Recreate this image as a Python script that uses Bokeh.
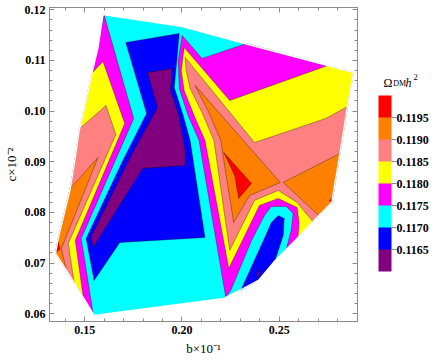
from bokeh.plotting import figure
from bokeh.layouts import row
from bokeh.models import (LinearAxis, Range1d, FixedTicker, PrintfTickFormatter,
                          ColorBar, LinearColorMapper, Label)
from bokeh.embed import file_html
from bokeh.resources import INLINE

# ---------------- data (b x 10^-1 , c x 10^-2) ----------------
levels = [0.1165, 0.1170, 0.1175, 0.1180, 0.1185, 0.1190, 0.1195]
level_colors = ["#800080", "#0000FF", "#00FFFF", "#FF00FF", "#FFFF00", "#FF8080", "#FF8000", "#FF0000"]
x_major = [0.15, 0.20, 0.25]
x_minor = [0.14, 0.16, 0.17, 0.18, 0.19, 0.21, 0.22, 0.23, 0.24, 0.26, 0.27, 0.28, 0.29]
y_major = [0.06, 0.07, 0.08, 0.09, 0.10, 0.11, 0.12]
y_minor = [0.060, 0.062, 0.064, 0.066, 0.068, 0.070, 0.072, 0.074, 0.076, 0.078, 0.080,
           0.082, 0.084, 0.086, 0.088, 0.090, 0.092, 0.094, 0.096, 0.098, 0.100, 0.102,
           0.104, 0.106, 0.108, 0.110, 0.112, 0.114, 0.116, 0.118, 0.120]

hull_b = [0.15942, 0.20012, 0.23219, 0.27493, 0.28817, 0.28511, 0.28104, 0.27697, 0.26934, 0.25865,
          0.24796, 0.23931, 0.22964, 0.22150, 0.15483, 0.14924, 0.14059, 0.13499, 0.13651, 0.14262,
          0.14517, 0.14720, 0.15076, 0.15382, 0.15687]
hull_c = [0.11907, 0.11670, 0.11335, 0.10901, 0.10763, 0.10111, 0.09125, 0.08197, 0.07901, 0.07467,
          0.07052, 0.06658, 0.06460, 0.06303, 0.05968, 0.06322, 0.06855, 0.07190, 0.07506, 0.08473,
          0.09085, 0.09618, 0.10210, 0.10763, 0.11256]

# >= 0.1175 (magenta)
magenta_l_b = [0.15993, 0.17519, 0.14822, 0.15433, 0.14924, 0.14059, 0.13499, 0.13651, 0.14262, 0.14517,
               0.14720, 0.15076, 0.15382, 0.15687]
magenta_l_c = [0.11907, 0.09855, 0.07487, 0.06007, 0.06322, 0.06855, 0.07190, 0.07506, 0.08473, 0.09085,
               0.09618, 0.10210, 0.10763, 0.11256]
magenta_r_b = [0.20012, 0.21030, 0.23320, 0.27493, 0.28817, 0.28511, 0.28104, 0.27697, 0.26934, 0.25865,
               0.25356, 0.25611, 0.25712, 0.25356, 0.24593, 0.24237, 0.23575, 0.22506, 0.22252, 0.20878,
               0.20318, 0.19860, 0.19809]
magenta_r_c = [0.11493, 0.11039, 0.11335, 0.10901, 0.10763, 0.10111, 0.09125, 0.08197, 0.07901, 0.07467,
               0.07270, 0.07644, 0.07980, 0.08118, 0.08118, 0.07940, 0.07447, 0.06460, 0.06322, 0.09421,
               0.09914, 0.10447, 0.11000]
# >= 0.1180 (yellow)
yellow_l_b = [0.15942, 0.17061, 0.14517, 0.14924, 0.14059, 0.13499, 0.13651, 0.14262, 0.14517, 0.14720,
              0.15076, 0.15356]
yellow_l_c = [0.10980, 0.09756, 0.07447, 0.06342, 0.06855, 0.07190, 0.07506, 0.08473, 0.09085, 0.09618,
              0.10210, 0.10743]
yellow_r_b = [0.20114, 0.22455, 0.27493, 0.28817, 0.28511, 0.28104, 0.27697, 0.26934, 0.25966, 0.26017,
              0.25916, 0.24949, 0.23982, 0.22404, 0.21183, 0.20623, 0.20114, 0.19962]
yellow_r_c = [0.11256, 0.10210, 0.10901, 0.10763, 0.10111, 0.09125, 0.08197, 0.07901, 0.07506, 0.07802,
              0.08098, 0.08276, 0.08138, 0.06895, 0.09421, 0.09914, 0.10407, 0.10802]
# >= 0.1185 (salmon)
salmon_l_b = [0.16094, 0.16603, 0.14160, 0.14466, 0.14059, 0.13499, 0.13651, 0.14262, 0.14517, 0.14746]
salmon_l_c = [0.10111, 0.09539, 0.07388, 0.06599, 0.06855, 0.07190, 0.07506, 0.08473, 0.09085, 0.09657]
salmon_r_b = [0.20165, 0.23728, 0.27392, 0.28511, 0.28104, 0.27697, 0.26934, 0.26730, 0.26374, 0.25916,
              0.24949, 0.23728, 0.22455, 0.21641, 0.21030, 0.20419, 0.20216]
salmon_r_c = [0.11059, 0.09381, 0.09855, 0.10092, 0.09125, 0.08197, 0.07901, 0.07822, 0.07980, 0.08197,
              0.08434, 0.08237, 0.07250, 0.09421, 0.09973, 0.10447, 0.10802]
# >= 0.1190 (orange)
orange_l_b = [0.15687, 0.13804, 0.14059, 0.13499, 0.13651, 0.14262]
orange_l_c = [0.09085, 0.07289, 0.06855, 0.07190, 0.07506, 0.08473]
orange_m_b = [0.20674, 0.25050, 0.23473, 0.22659, 0.22150, 0.21997, 0.21336]
orange_m_c = [0.10506, 0.08592, 0.08335, 0.07802, 0.09026, 0.09421, 0.10013]
orange_r_b = [0.25203, 0.28119, 0.27697, 0.27035]
orange_r_c = [0.08592, 0.09164, 0.08197, 0.07940]
# >= 0.1195 (red)
red_l_b = [0.13499, 0.13651, 0.13728]
red_l_c = [0.07210, 0.07427, 0.07270]
red_m_b = [0.22150, 0.23575, 0.22913, 0.22710]
red_m_c = [0.09184, 0.08572, 0.08276, 0.08730]
red_r_b = [0.27570, 0.27722, 0.27697]
red_r_c = [0.08237, 0.08296, 0.08197]
# < 0.1170 (blue)
blue_m_b = [0.17112, 0.19860, 0.19605, 0.20063, 0.20419, 0.21183, 0.16807, 0.15483, 0.15076, 0.16960, 0.18181]
blue_m_c = [0.11355, 0.11532, 0.10467, 0.09914, 0.09421, 0.07506, 0.07407, 0.06658, 0.07487, 0.09026, 0.09953]
blue_r_b = [0.23015, 0.24186, 0.24593, 0.24949, 0.25254, 0.25203, 0.24796, 0.23931]
blue_r_c = [0.06460, 0.07447, 0.07802, 0.07940, 0.07881, 0.07546, 0.07072, 0.06658]
# < 0.1165 (purple)
purple_m_b = [0.18231, 0.19504, 0.19402, 0.19809, 0.20165, 0.20165, 0.17977, 0.15433, 0.15331, 0.17468, 0.18740]
purple_m_c = [0.10763, 0.10842, 0.10407, 0.09953, 0.09223, 0.08927, 0.08868, 0.07309, 0.07526, 0.09184, 0.10072]
purple_r_b = [0.23830, 0.23982, 0.23957]
purple_r_c = [0.06776, 0.06895, 0.06717]

# ---------------- main figure ----------------
GRAY = "#8a8a8a"
SERIF = "Liberation Serif"
p = figure(width=360, height=360, x_range=Range1d(0.13193, 0.29020), y_range=Range1d(0.05848, 0.12045),
           output_backend="svg", toolbar_location=None,
           min_border_left=46, min_border_right=3, min_border_top=7, min_border_bottom=39)
p.xgrid.visible = False
p.ygrid.visible = False
p.outline_line_color = GRAY
p.background_fill_color = "white"
p.border_fill_color = "white"

p.patch(hull_b, hull_c, fill_color=level_colors[2], line_color=None)

regions = [
    (magenta_l_b, magenta_l_c, level_colors[3]), (magenta_r_b, magenta_r_c, level_colors[3]),
    (yellow_l_b, yellow_l_c, level_colors[4]), (yellow_r_b, yellow_r_c, level_colors[4]),
    (salmon_l_b, salmon_l_c, level_colors[5]), (salmon_r_b, salmon_r_c, level_colors[5]),
    (orange_l_b, orange_l_c, level_colors[6]), (orange_m_b, orange_m_c, level_colors[6]),
    (orange_r_b, orange_r_c, level_colors[6]),
    (red_l_b, red_l_c, level_colors[7]), (red_m_b, red_m_c, level_colors[7]), (red_r_b, red_r_c, level_colors[7]),
    (blue_m_b, blue_m_c, level_colors[1]), (blue_r_b, blue_r_c, level_colors[1]),
    (purple_m_b, purple_m_c, level_colors[0]), (purple_r_b, purple_r_c, level_colors[0]),
]
for xs, ys, col in regions:
    p.patch(xs, ys, fill_color=col, line_color="#000000", line_alpha=0.4, line_width=0.8)

# clean outer boundary
p.patch(hull_b, hull_c, fill_color=None, line_color="white", line_width=1.4)

# labelled axes
for ax in (p.xaxis[0], p.yaxis[0]):
    ax.axis_line_color = GRAY
    ax.major_tick_line_color = GRAY
    ax.minor_tick_line_color = GRAY
    ax.major_tick_in = 5
    ax.major_tick_out = 0
    ax.minor_tick_in = 3
    ax.minor_tick_out = 0
    ax.major_label_text_font = SERIF
    ax.major_label_text_font_style = "bold"
    ax.major_label_text_font_size = "12px"
    ax.major_label_text_color = "black"
    ax.major_label_standoff = 4
    ax.formatter = PrintfTickFormatter(format="%.2f")
    ax.axis_label_text_font = SERIF
    ax.axis_label_text_font_style = "normal"
    ax.axis_label_text_font_size = "13px"
    ax.axis_label_text_color = "black"
p.xaxis[0].ticker = FixedTicker(ticks=x_major, minor_ticks=x_minor)
p.yaxis[0].ticker = FixedTicker(ticks=y_major, minor_ticks=y_minor)
p.xaxis[0].axis_label = "b×10⁻¹"
p.xaxis[0].axis_label_standoff = 4
p.yaxis[0].axis_label = "c×10⁻²"
p.yaxis[0].axis_label_standoff = 3

# unlabelled mirror ticks on top and right (frame ticks)
def mirror(ticks, length):
    ax = LinearAxis(ticker=FixedTicker(ticks=[], minor_ticks=ticks))
    ax.axis_line_color = GRAY
    ax.minor_tick_line_color = GRAY
    ax.minor_tick_in = length
    ax.minor_tick_out = 0
    ax.major_tick_out = 0
    ax.major_label_standoff = 0
    return ax

p.add_layout(mirror(x_major, 5), "above")
p.add_layout(mirror(x_minor, 3), "above")
p.add_layout(mirror(y_major, 5), "right")
p.add_layout(mirror(y_minor, 3), "right")

# ---------------- colour-bar panel ----------------
q = figure(width=76, height=360, x_range=Range1d(0, 1), y_range=Range1d(0, 1),
           x_axis_type=None, y_axis_type=None, output_backend="svg", toolbar_location=None,
           min_border=0)
q.outline_line_color = None
q.background_fill_color = "white"
q.border_fill_color = "white"

mapper = LinearColorMapper(palette=level_colors, low=0.1160, high=0.1200)
cb = ColorBar(color_mapper=mapper, ticker=FixedTicker(ticks=levels),
              formatter=PrintfTickFormatter(format="%.4f"),
              width=13, height=176, location=(18, 50), padding=0, margin=0,
              major_tick_out=5, major_tick_in=0, major_tick_line_color=GRAY,
              minor_tick_line_color=None, bar_line_color=None, label_standoff=0,
              background_fill_alpha=0, border_line_color=None,
              major_label_text_font=SERIF, major_label_text_font_style="bold",
              major_label_text_font_size="12px", major_label_text_color="black")
q.add_layout(cb, "center")

q.add_layout(Label(x=23, y=239, x_units="screen", y_units="screen", text="Ω",
                   text_align="left", text_baseline="alphabetic",
                   text_font=SERIF, text_font_size="12px", text_color="black"))
q.add_layout(Label(x=32.7, y=238, x_units="screen", y_units="screen", text="DM",
                   text_align="left", text_baseline="alphabetic",
                   text_font=SERIF, text_font_size="8px", text_color="black"))
q.add_layout(Label(x=45, y=239, x_units="screen", y_units="screen", text="h",
                   text_align="left", text_baseline="alphabetic", text_font_style="italic",
                   text_font=SERIF, text_font_size="12px", text_color="black"))
q.add_layout(Label(x=53, y=244.5, x_units="screen", y_units="screen", text="2",
                   text_align="left", text_baseline="alphabetic",
                   text_font=SERIF, text_font_size="8.5px", text_color="black"))

open("out.html", "w").write(file_html(row(p, q), INLINE))
